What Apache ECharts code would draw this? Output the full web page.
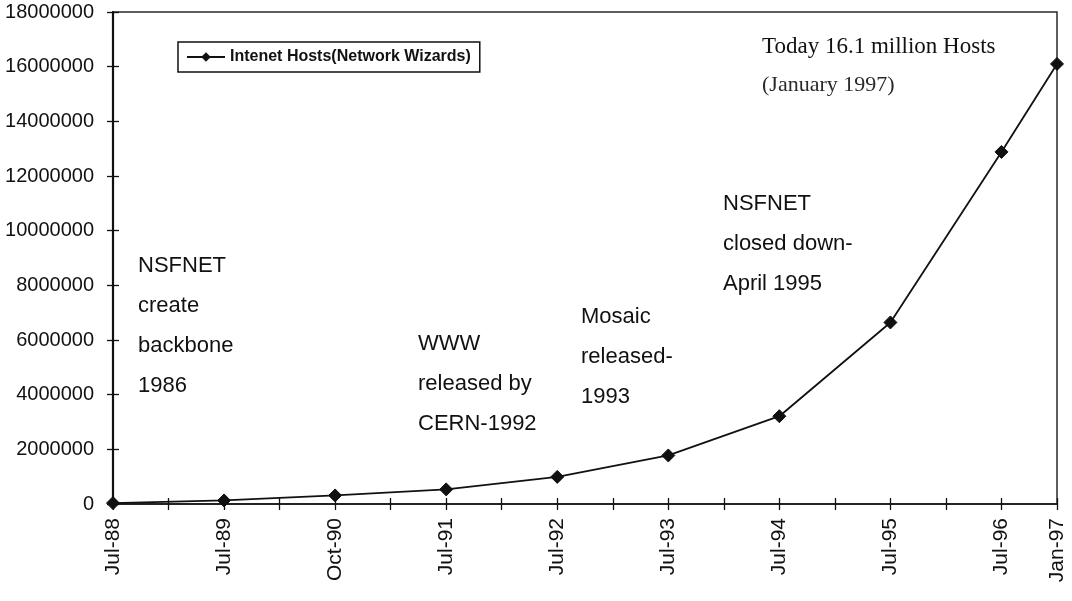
<!DOCTYPE html>
<html>
<head>
<meta charset="utf-8">
<script src="https://cdn.jsdelivr.net/npm/echarts@6/dist/echarts.min.js"></script>
<style>
  html, body { margin: 0; padding: 0; background: #fff; }
  #chart { width: 1072px; height: 601px; }
</style>
</head>
<body>
<div id="chart"></div>
<script>
// Internet host counts (Network Wizards survey)
const surveyDates = ['Jul-88', 'Jul-89', 'Oct-90', 'Jul-91', 'Jul-92', 'Jul-93', 'Jul-94', 'Jul-95', 'Jul-96', 'Jan-97'];
const hostCounts = [33000, 130000, 313000, 535000, 992000, 1776000, 3212000, 6642000, 12881000, 16100000];

// Category slots along the time axis: every survey date plus unlabeled half-steps
const tickLabels = ['Jul-88', '', 'Jul-89', '', 'Oct-90', '', 'Jul-91', '', 'Jul-92', '', 'Jul-93', '', 'Jul-94', '', 'Jul-95', '', 'Jul-96', 'Jan-97'];

const yMin = 0, yMax = 18000000, yStep = 2000000;

const seriesData = tickLabels.map(function (lbl) {
  const i = surveyDates.indexOf(lbl);
  return lbl !== '' && i >= 0 ? hostCounts[i] : null;
});

const sansFont = "'Liberation Sans', Arial, sans-serif";
const ink = '#111111';

const annotations = [
  { x: 138, y: 246, text: 'NSFNET\ncreate\nbackbone\n1986' },
  { x: 418, y: 324, text: 'WWW\nreleased by\nCERN-1992' },
  { x: 581, y: 297, text: 'Mosaic\nreleased-\n1993' },
  { x: 723, y: 184, text: 'NSFNET\nclosed down-\nApril 1995' }
];

const chart = echarts.init(document.getElementById('chart'), null, { renderer: 'canvas' });

const baseX = {
  type: 'category',
  data: tickLabels,
  boundaryGap: false,
  position: 'bottom'
};
const baseY = {
  type: 'value',
  min: yMin,
  max: yMax,
  interval: yStep,
  position: 'left',
  splitLine: { show: false }
};

chart.setOption({
  animation: false,
  backgroundColor: '#ffffff',
  grid: {
    left: 113, right: 15, top: 12, bottom: 97,
    show: true,
    borderColor: '#2a2a2a',
    borderWidth: 1.5,
    backgroundColor: 'transparent'
  },
  legend: {
    left: 178,
    top: 42,
    padding: [7, 9, 7, 8],
    itemWidth: 38,
    itemHeight: 12,
    itemGap: 8,
    borderColor: '#111',
    borderWidth: 1.5,
    borderRadius: 0,
    textStyle: {
      fontFamily: "'Liberation Sans Narrow', 'Liberation Sans', Arial, sans-serif",
      fontWeight: 'bold',
      fontSize: 16,
      color: ink
    },
    data: [{ name: 'Intenet Hosts(Network Wizards)' }]
  },
  xAxis: [
    Object.assign({}, baseX, {
      axisLine: { show: true, lineStyle: { color: ink, width: 1.5 } },
      axisTick: { show: true, interval: 0, length: 6, lineStyle: { color: ink, width: 1.3 } },
      axisLabel: {
        interval: 0,
        rotate: 90,
        margin: 14,
        fontFamily: sansFont,
        fontSize: 21,
        color: ink
      }
    }),
    Object.assign({}, baseX, {
      axisLine: { show: false },
      axisTick: { show: true, inside: true, interval: 0, length: 6, lineStyle: { color: ink, width: 1.3 } },
      axisLabel: { show: false }
    })
  ],
  yAxis: [
    Object.assign({}, baseY, {
      axisLine: { show: true, lineStyle: { color: ink, width: 2.2 } },
      axisTick: { show: true, length: 6, lineStyle: { color: ink, width: 1.3 } },
      axisLabel: {
        margin: 19,
        fontFamily: sansFont,
        fontSize: 20,
        color: ink,
        formatter: function (v) { return String(v); }
      }
    }),
    Object.assign({}, baseY, {
      axisLine: { show: false },
      axisTick: { show: true, inside: true, length: 6, lineStyle: { color: ink, width: 1.3 } },
      axisLabel: { show: false }
    })
  ],
  series: [{
    name: 'Intenet Hosts(Network Wizards)',
    type: 'line',
    xAxisIndex: 0,
    yAxisIndex: 0,
    data: seriesData,
    connectNulls: true,
    symbol: 'diamond',
    symbolSize: 13,
    showSymbol: true,
    lineStyle: { color: ink, width: 1.8 },
    itemStyle: { color: ink, borderColor: ink },
    emphasis: { disabled: true }
  }],
  graphic: annotations.map(function (a) {
    return {
      type: 'text',
      left: a.x,
      top: a.y,
      silent: true,
      style: {
        text: a.text,
        fontFamily: sansFont,
        fontSize: 22,
        lineHeight: 40,
        fill: ink
      }
    };
  }).concat([
    {
      type: 'text',
      left: 762,
      top: 35,
      silent: true,
      style: {
        text: 'Today 16.1 million Hosts',
        fontFamily: "'Liberation Serif', 'Times New Roman', serif",
        fontSize: 23,
        fill: ink
      }
    },
    {
      type: 'text',
      left: 762,
      top: 74,
      silent: true,
      style: {
        text: '(January 1997)',
        fontFamily: "'Liberation Serif', 'Times New Roman', serif",
        fontSize: 22,
        fill: '#2a2a2a'
      }
    }
  ])
});
</script>
</body>
</html>
